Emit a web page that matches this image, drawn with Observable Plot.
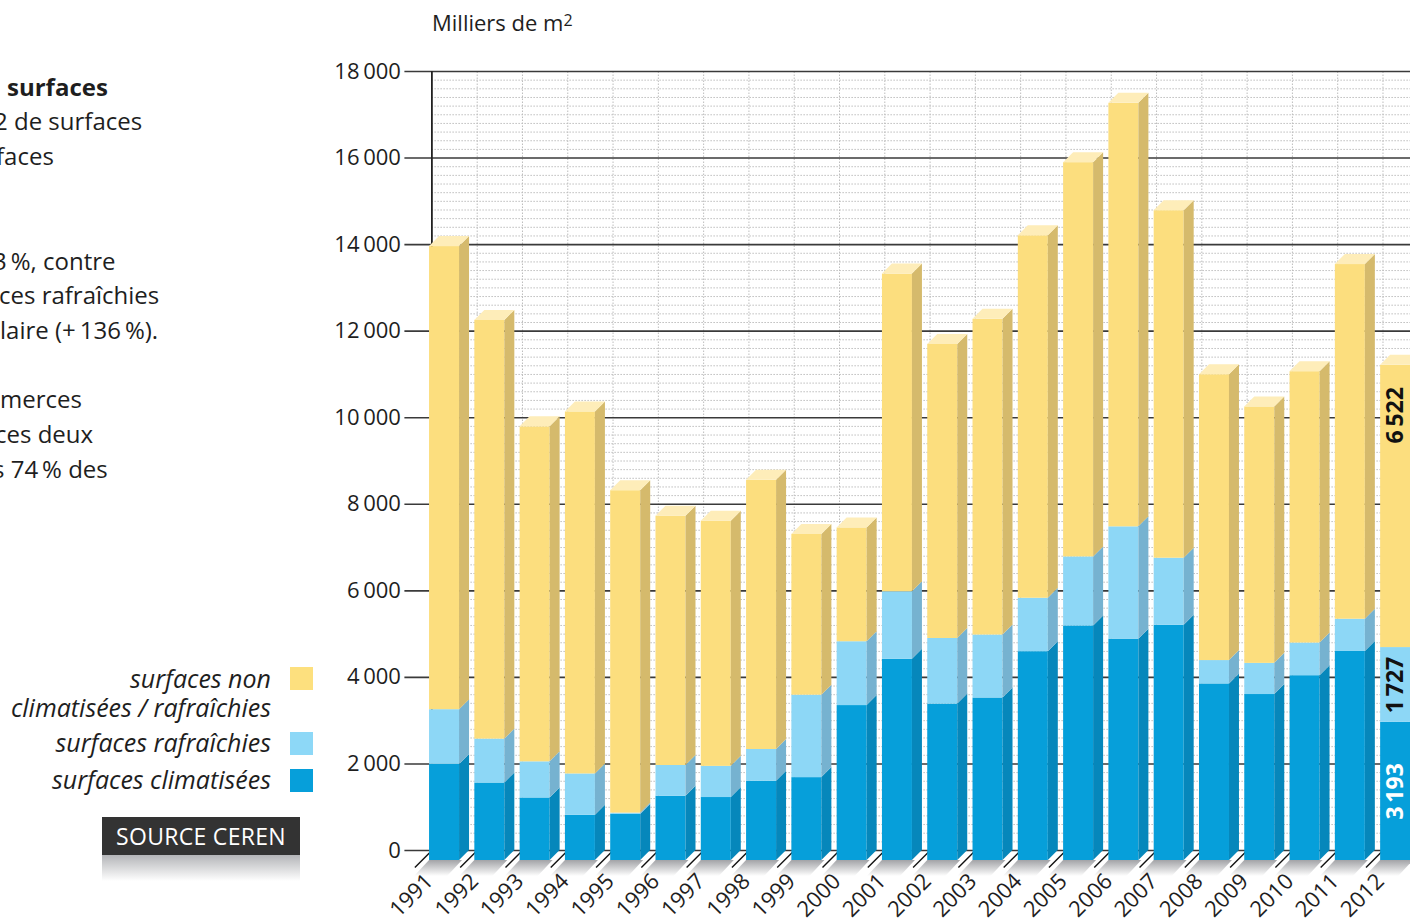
<!DOCTYPE html>
<html>
<head>
<meta charset="utf-8">
<script src="https://cdn.jsdelivr.net/npm/d3@7"></script>
<script src="https://cdn.jsdelivr.net/npm/@observablehq/plot@0.6"></script>
<style>
html,body{margin:0;padding:0;overflow:hidden;background:#fff;}
body{width:1410px;height:920px;position:relative;font-family:"Open Sans",sans-serif;color:#1e1e1e;}
#chart{position:absolute;left:0;top:0;width:1410px;height:920px;overflow:hidden;}
.t{position:absolute;white-space:nowrap;font-size:24px;line-height:1;}
.b{font-weight:bold;}
.lg{position:absolute;right:1139px;white-space:nowrap;font-size:25px;line-height:1;font-style:italic;text-align:right;}
.sw{position:absolute;left:290px;width:23px;height:23px;}
#unit{position:absolute;left:432px;top:11px;font-size:22px;line-height:1;white-space:nowrap;}
#unit sup{font-size:16px;vertical-align:5px;line-height:0;}
#src{position:absolute;left:102px;top:817px;width:198px;height:38px;background:#333;color:#fff;font-size:23px;line-height:38px;text-align:center;letter-spacing:0.3px;}
#srcsh{position:absolute;left:102px;top:855px;width:198px;height:26px;background:linear-gradient(#b4b5b8,#fff);}
</style>
</head>
<body>
<div id="chart"></div>

<div class="t b" style="left:7px;top:75px;">surfaces</div>
<div class="t" style="left:-6px;top:109px;">2 de surfaces</div>
<div class="t" style="left:-4px;top:144px;">faces</div>
<div class="t" style="left:-7px;top:249px;">3&#8201;%, contre</div>
<div class="t" style="left:-1px;top:283px;">ces rafraîchies</div>
<div class="t" style="left:0px;top:318px;">laire (+&#8201;136&#8201;%).</div>
<div class="t" style="left:0px;top:387px;">merces</div>
<div class="t" style="left:-5px;top:422px;">ces deux</div>
<div class="t" style="left:-7px;top:457px;">s 74&#8201;% des</div>

<div class="lg" style="top:666px;">surfaces non</div>
<div class="lg" style="top:695px;">climatisées / rafraîchies</div>
<div class="lg" style="top:730px;">surfaces rafraîchies</div>
<div class="lg" style="top:767px;">surfaces climatisées</div>
<div class="sw" style="top:667px;background:#fde07e;"></div>
<div class="sw" style="top:732px;background:#8dd8f7;"></div>
<div class="sw" style="top:769px;background:#069fda;"></div>

<div id="srcsh"></div>
<div id="src">SOURCE CEREN</div>

<div id="unit">Milliers de m<sup>2</sup></div>

<script>
// ---- data (milliers de m²) ----
const years = [1991,1992,1993,1994,1995,1996,1997,1998,1999,2000,2001,2002,2003,2004,2005,2006,2007,2008,2009,2010,2011,2012];
const climatisees = [2220,1790,1445,1045,1065,1485,1455,1830,1915,3580,4650,3615,3755,4825,5420,5115,5435,4080,3835,4270,4830,3193];
const rafraichies = [1265,1015,835,955,30,710,720,735,1905,1475,1560,1515,1455,1235,1595,2595,1550,540,720,755,745,1727];
const nonClimatisees = [10700,9675,7740,8365,7450,5760,5665,6220,3715,2630,7340,6795,7295,8375,9110,9785,8030,6605,5925,6270,8195,6522];
const yTicks = [0,2000,4000,6000,8000,10000,12000,14000,16000,18000];
const labelledYear = 2012;

// ---- styles ----
const FRONT = {clim:"#069fda", raf:"#8dd7f6", non:"#fcde7e"};
const SIDE  = {clim:"#0687bb", raf:"#76b2d0", non:"#d5ba6c"};
const TOP   = "#feedb9";
const SHADOW = "#a5a6ab";

// geometry of the pseudo-3D (pixel depth converted to data units)
const STEP = 45.29;            // px per year
const XPX = 1 / STEP;          // years per px
const YPX = 18000 / 779;       // units per px

const fmt = v => String(v).replace(/\B(?=(\d{3})+(?!\d))/g, "\u2009");

const keys = [["clim", climatisees], ["raf", rafraichies], ["non", nonClimatisees]];
const segs = [];
const tops = [];
years.forEach((yr, i) => {
  let lo = 0;
  keys.forEach(([k, arr]) => {
    const hi = lo + arr[i];
    segs.push({year: yr, k, lo, hi, v: arr[i], id: yr + k});
    lo = hi;
  });
  tops.push({year: yr, total: lo});
});

const sidePts = segs.flatMap(s => [
  {id: s.id, k: s.k, x: s.year + 5 * XPX, y1: s.lo - 10 * YPX, y2: s.hi - 10 * YPX},
  {id: s.id, k: s.k, x: s.year + 15 * XPX, y1: s.lo, y2: s.hi}
]);
const topPts = tops.flatMap(t => [
  {id: t.year, y: t.total - 10 * YPX, x1: t.year - 25 * XPX, x2: t.year + 5 * XPX},
  {id: t.year, y: t.total, x1: t.year - 15 * XPX, x2: t.year + 15 * XPX}
]);
const shadowPts = years.flatMap(yr => [
  {id: yr, y: -10 * YPX, x1: yr - 25 * XPX, x2: yr + 8 * XPX},
  {id: yr, y: -26 * YPX, x1: yr - 40 * XPX, x2: yr - 7 * XPX}
]);
const gridX = years.map(y => y - 0.5);
const minor = d3.range(200, 18000, 200).filter(v => v % 2000 !== 0);
const lab = segs.filter(s => s.year === labelledYear);

const chart = Plot.plot({
  width: 1410,
  height: 920,
  marginLeft: 431.4,
  marginRight: 0,
  marginTop: 71,
  marginBottom: 70,
  x: {type: "linear", domain: [1990.5, 2012.5], range: [431.4, 431.4 + 22 * STEP], axis: null},
  y: {domain: [0, 18000], axis: null},
  color: {type: "identity"},
  style: {fontFamily: "'Open Sans', sans-serif", background: "transparent", color: "#1e1e1e"},
  marks: [
    Plot.ruleY(minor, {y: d => d, stroke: "#bdbdbd", strokeWidth: 1, strokeDasharray: "1.5,1.5"}),
    Plot.ruleX(gridX.slice(1), {x: d => d, y1: () => 0, y2: () => 18000, stroke: "#bdbdbd", strokeWidth: 1, strokeDasharray: "1.5,1.5"}),
    Plot.ruleY(yTicks, {y: d => d, x1: () => 1990.5 - 27 * XPX, x2: () => 2012.5, stroke: "#3a3a3a", strokeWidth: 1.6}),
    Plot.ruleX([1990.5], {x: d => d, y1: () => 0, y2: () => 18000, stroke: "#222", strokeWidth: 1.8}),
    Plot.link(gridX, {x1: d => d, y1: () => 0, x2: d => d - 17 * XPX, y2: () => -17 * YPX, stroke: "#111", strokeWidth: 1.4}),
    Plot.areaX(shadowPts, {y: "y", x1: "x1", x2: "x2", z: "id", fill: SHADOW}),
    Plot.rect(segs, {x1: d => d.year - 15 * XPX, x2: d => d.year + 15 * XPX, y1: "lo", y2: "hi", fill: d => FRONT[d.k], dx: -10, dy: 10}),
    Plot.areaY(sidePts, {x: "x", y1: "y1", y2: "y2", z: "id", fill: d => SIDE[d.k]}),
    Plot.areaX(topPts, {y: "y", x1: "x1", x2: "x2", z: "id", fill: TOP}),
    Plot.text(yTicks, {y: d => d, text: fmt, frameAnchor: "left", textAnchor: "end", dx: -31, fontSize: 22, fill: "#1e1e1e"}),
    Plot.text(years, {x: d => d, y: () => 0, text: d => String(d), rotate: -45, textAnchor: "middle", lineAnchor: "middle", dx: -43, dy: 45, fontSize: 22, fill: "#1e1e1e"}),
    Plot.text(lab.filter(d => d.k !== "non"), {
      x: "year", y: d => (d.lo + d.hi) / 2, text: d => fmt(d.v),
      rotate: -90, lineAnchor: "middle", textAnchor: "middle", dx: -10, dy: 10,
      fontSize: 23, fontWeight: "bold",
      fill: d => d.k === "clim" ? "#ffffff" : "#111111"
    }),
    Plot.text(lab.filter(d => d.k === "non"), {
      x: "year", y: "hi", text: d => fmt(d.v),
      rotate: -90, lineAnchor: "middle", textAnchor: "middle", dx: -10, dy: 60,
      fontSize: 23, fontWeight: "bold", fill: "#111111"
    })
  ]
});

// gradient for the floor shadows
const svg = d3.select(chart);
const defs = svg.insert("defs", ":first-child");
const g = defs.append("linearGradient").attr("id", "shadowGrad").attr("x1", 0).attr("y1", 0).attr("x2", 0).attr("y2", 1);
g.append("stop").attr("offset", "0%").attr("stop-color", "#a2a3a7");
g.append("stop").attr("offset", "100%").attr("stop-color", "#ffffff");
svg.selectAll('[fill="' + SHADOW + '"]').attr("fill", "url(#shadowGrad)");

document.getElementById("chart").appendChild(chart);
</script>
</body>
</html>
